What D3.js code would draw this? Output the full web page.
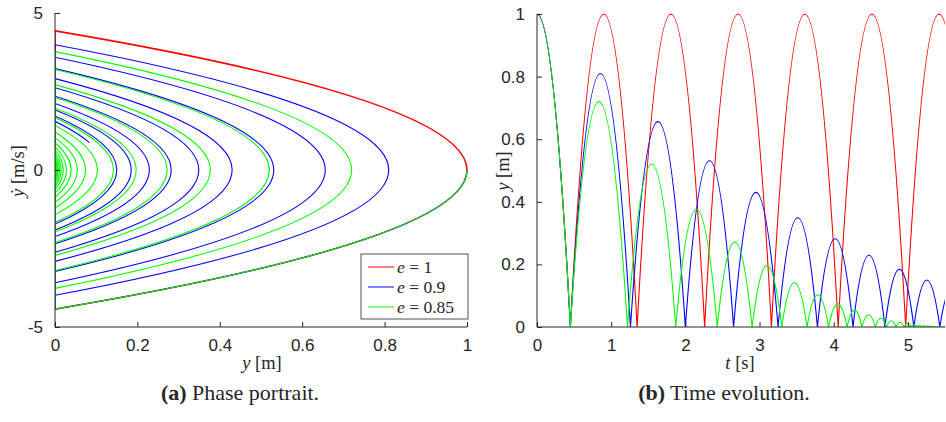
<!DOCTYPE html>
<html>
<head>
<meta charset="utf-8">
<script src="https://cdnjs.cloudflare.com/ajax/libs/d3/7.8.5/d3.min.js"></script>
<style>
  body { margin: 0; background: #fff; }
  .tick text { font-family: "Liberation Sans", Arial, sans-serif; font-size: 17px; fill: #262626; }
  .tick line, .domain { stroke: #262626; }
  .tex { font-family: "Liberation Serif", "Times New Roman", serif; fill: #262626; }
</style>
</head>
<body>
<div id="chart"></div>
<script>
var svgWidth = 946;
var svgHeight = 422;

// drop height 1 m, rebound speeds, apex heights, impact times
var seriesE = ["1", "0.9", "0.85"];
var seriesColors = ["#ff0000", "#0000ff", "#00ff00"];

var redImpacts = [0.45, 1.35, 2.26, 3.16, 4.06, 4.97, 5.87];
var redPeaks = [1, 1, 1, 1, 1, 1, 1];
var redSpeeds = [4.43, 4.43, 4.43, 4.43, 4.43, 4.43, 4.43];

var blueImpacts = [0.45, 1.26, 2.00, 2.65, 3.25, 3.78, 4.26, 4.69, 5.08, 5.43, 5.75];
var bluePeaks = [1, 0.81, 0.656, 0.531, 0.43, 0.349, 0.282, 0.229, 0.185, 0.15, 0.122];
var blueSpeeds = [4.43, 3.99, 3.59, 3.23, 2.91, 2.62, 2.35, 2.12, 1.91, 1.72, 1.55];
var blueEndSpeed = 0.87;

var greenImpacts = [0.45, 1.22, 1.87, 2.43, 2.90, 3.30, 3.64, 3.93, 4.18, 4.38,
  4.56, 4.71, 4.84, 4.95, 5.04, 5.12, 5.19, 5.25, 5.30, 5.34];
var greenPeaks = [1, 0.72, 0.52, 0.377, 0.272, 0.197, 0.142, 0.103, 0.074, 0.054,
  0.039, 0.028, 0.020, 0.015, 0.011, 0.0076, 0.0055, 0.004, 0.0029, 0.0021];
var greenSpeeds = [4.43, 3.77, 3.20, 2.72, 2.31, 1.97, 1.67, 1.42, 1.21, 1.03,
  0.87, 0.74, 0.63, 0.54, 0.46, 0.39, 0.33, 0.28, 0.24, 0.20];

var phaseXTicks = [0, 0.2, 0.4, 0.6, 0.8, 1];
var phaseYTicks = [-5, 0, 5];
var timeXTicks = [0, 1, 2, 3, 4, 5];
var timeYTicks = [0, 0.2, 0.4, 0.6, 0.8, 1];
var tEnd = 5.5;

var series = [
  { impacts: redImpacts, peaks: redPeaks, speeds: redSpeeds, endSpeed: null, width: 1.6 },
  { impacts: blueImpacts, peaks: bluePeaks, speeds: blueSpeeds, endSpeed: blueEndSpeed, width: 1.1 },
  { impacts: greenImpacts, peaks: greenPeaks, speeds: greenSpeeds, endSpeed: null, width: 1.1 }
];

var svg = d3.select("#chart")
  .append("svg")
  .attr("width", svgWidth)
  .attr("height", svgHeight);

// scales
var xPhase = d3.scaleLinear().domain([0, 1]).range([55, 467]);
var yPhase = d3.scaleLinear().domain([-5, 5]).range([327, 13]);
var xTime = d3.scaleLinear().domain([0, tEnd]).range([537, 945]);
var yTime = d3.scaleLinear().domain([0, 1]).range([327, 14]);

var defs = svg.append("defs");
defs.append("clipPath").attr("id", "clipA").append("rect")
  .attr("x", xPhase(0)).attr("y", yPhase(5))
  .attr("width", xPhase(1) - xPhase(0) + 2).attr("height", yPhase(-5) - yPhase(5));
defs.append("clipPath").attr("id", "clipB").append("rect")
  .attr("x", xTime(0)).attr("y", yTime(1) - 2)
  .attr("width", xTime(tEnd) - xTime(0)).attr("height", yTime(0) - yTime(1) + 2);

// phase path: y on x axis, velocity on y axis; each flight is a parabola -> quadratic bezier
function phasePath(s) {
  var p = d3.path();
  var H0 = s.peaks[0], V0 = s.speeds[0];
  p.moveTo(xPhase(H0), yPhase(0));
  p.quadraticCurveTo(xPhase(H0), yPhase(-V0 / 2), xPhase(0), yPhase(-V0));
  for (var i = 1; i < s.peaks.length; i++) {
    var H = s.peaks[i], V = s.speeds[i];
    p.lineTo(xPhase(0), yPhase(V));
    var last = (i === s.peaks.length - 1) && s.endSpeed !== null;
    if (last) {
      var vb = s.endSpeed, k = H / (V * V);
      p.quadraticCurveTo(xPhase(H - k * V * vb), yPhase((V + vb) / 2),
        xPhase(H - k * vb * vb), yPhase(vb));
    } else {
      p.quadraticCurveTo(xPhase(2 * H), yPhase(0), xPhase(0), yPhase(-V));
    }
  }
  return p.toString();
}

function timePath(s) {
  var p = d3.path();
  var t0 = s.impacts[0];
  p.moveTo(xTime(0), yTime(s.peaks[0]));
  p.quadraticCurveTo(xTime(t0 / 2), yTime(s.peaks[0]), xTime(t0), yTime(0));
  for (var i = 1; i < s.peaks.length; i++) {
    var ta = s.impacts[i - 1], tb = s.impacts[i];
    p.quadraticCurveTo(xTime((ta + tb) / 2), yTime(2 * s.peaks[i]), xTime(tb), yTime(0));
  }
  var tl = s.impacts[s.impacts.length - 1];
  if (tl < tEnd) p.lineTo(xTime(tEnd), yTime(0));
  return p.toString();
}

var gA = svg.append("g").attr("clip-path", "url(#clipA)");
var gB = svg.append("g").attr("clip-path", "url(#clipB)");

series.forEach(function(s, i) {
  gA.append("path")
    .attr("d", phasePath(s))
    .attr("fill", "none")
    .attr("stroke", seriesColors[i])
    .attr("stroke-width", s.width);
  gB.append("path")
    .attr("d", timePath(s))
    .attr("fill", "none")
    .attr("stroke", seriesColors[i])
    .attr("stroke-width", 1.1);
});

// axes, MATLAB style: ticks pointing inwards, no box
function drawAxes(xs, ys, xt, yt) {
  var bottom = svg.append("g")
    .attr("transform", `translate(0, ${ys.range()[0]})`)
    .call(d3.axisBottom(xs).tickValues(xt).tickSizeInner(-5).tickSizeOuter(0)
      .tickPadding(12).tickFormat(d => String(d)));
  var left = svg.append("g")
    .attr("transform", `translate(${xs.range()[0]}, 0)`)
    .call(d3.axisLeft(ys).tickValues(yt).tickSizeInner(-5).tickSizeOuter(0)
      .tickPadding(12).tickFormat(d => String(d)));
  bottom.select(".domain").attr("d", `M${xs.range()[0]},0H${xs.range()[1]}`);
  left.select(".domain").attr("d", `M0,${ys.range()[0]}V${ys.range()[1]}`);
}
drawAxes(xPhase, yPhase, phaseXTicks, phaseYTicks);
drawAxes(xTime, yTime, timeXTicks, timeYTicks);

// axis labels
function texLabel(x, y, rot, italic, rest) {
  var t = svg.append("text")
    .attr("class", "tex")
    .attr("text-anchor", "middle")
    .attr("font-size", 18.5)
    .attr("transform", `translate(${x}, ${y}) rotate(${rot})`);
  t.append("tspan").attr("font-style", "italic").text(italic);
  t.append("tspan").text(" [" + rest + "]");
}
texLabel(262, 369, 0, "y", "m");
texLabel(24, 171, -90, "ẏ", "m/s");
texLabel(740, 369, 0, "t", "s");
texLabel(509, 171, -90, "y", "m");

// legend
var legend = svg.append("g").attr("transform", "translate(361, 254)");
legend.append("rect")
  .attr("width", 107).attr("height", 65)
  .attr("fill", "#fff").attr("stroke", "#262626").attr("stroke-width", 0.8);
seriesE.forEach(function(e, i) {
  var yy = 13 + i * 20;
  legend.append("line")
    .attr("x1", 7).attr("x2", 33).attr("y1", yy).attr("y2", yy)
    .attr("stroke", seriesColors[i]).attr("stroke-width", 1);
  var t = legend.append("text")
    .attr("class", "tex")
    .attr("x", 36).attr("y", yy + 6)
    .attr("font-size", 17.5);
  t.append("tspan").attr("font-style", "italic").text("e");
  t.append("tspan").text(" = " + e);
});

// captions
function caption(x, tag, txt) {
  var t = svg.append("text")
    .attr("class", "tex")
    .attr("x", x).attr("y", 400)
    .attr("text-anchor", "middle")
    .attr("font-size", 22)
    .attr("fill", "#000");
  t.append("tspan").attr("font-weight", "bold").text("(" + tag + ")");
  t.append("tspan").text(" " + txt);
}
caption(240, "a", "Phase portrait.");
caption(724, "b", "Time evolution.");
</script>
</body>
</html>
